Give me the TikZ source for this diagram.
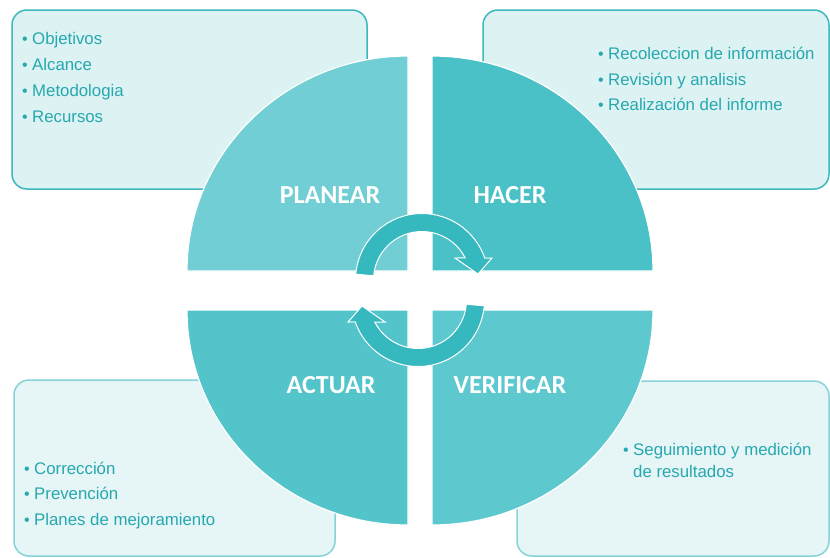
\documentclass[tikz,border=0pt]{standalone}
\usepackage{fontspec}
\setmainfont{Liberation Sans}
\newfontfamily\lblfont{Carlito}
\definecolor{boxfillT}{RGB}{221,242,243}
\definecolor{boxfillB}{RGB}{230,245,246}
\definecolor{boxdrawT}{RGB}{60,184,191}
\definecolor{boxdrawB}{RGB}{134,211,216}
\definecolor{cplanear}{RGB}{112,206,212}
\definecolor{chacer}{RGB}{73,193,198}
\definecolor{cactuar}{RGB}{83,196,202}
\definecolor{cverificar}{RGB}{93,200,205}
\definecolor{carrow}{RGB}{53,185,191}
\definecolor{itemtxt}{RGB}{38,168,175}
\tikzset{
  item/.style={anchor=base west, inner sep=0pt, text=itemtxt, font=\fontsize{16.8}{20}\selectfont},
  bul/.style={anchor=base west, inner sep=0pt, text=itemtxt, font=\fontsize{16}{18}\selectfont},
  quadlbl/.style={anchor=base, inner sep=0pt, text=white, font=\lblfont\bfseries\fontsize{26}{30}\selectfont},
  boxT/.style={draw=boxdrawT, fill=boxfillT, line width=1.5pt, rounded corners=15pt},
  boxB/.style={draw=boxdrawB, fill=boxfillB, line width=1.5pt, rounded corners=15pt},
  quad/.style={draw=white, line width=1.2pt},
  cyc/.style={fill=carrow, draw=white, line width=1pt, line join=miter},
}
\begin{document}
\begin{tikzpicture}[x=1pt,y=-1pt]
\useasboundingbox (0,0) rectangle (830,557);
\fill[white] (0,0) rectangle (830,557);
% boxes
\draw[boxT] (12,10) rectangle (367,189);
\draw[boxT] (483,10) rectangle (829,189);
\draw[boxB] (14,380) rectangle (335,556);
\draw[boxB] (517,381) rectangle (829,556);
% quadrants
\path[quad, fill=cplanear] (408,271) -- (187,271) arc[start angle=180, end angle=270, x radius=221, y radius=215] -- cycle;
\path[quad, fill=chacer] (432,271) -- (432,56) arc[start angle=270, end angle=360, x radius=221, y radius=215] -- cycle;
\path[quad, fill=cverificar] (432,310) -- (653,310) arc[start angle=0, end angle=90, x radius=221, y radius=215] -- cycle;
\path[quad, fill=cactuar] (408,310) -- (408,525) arc[start angle=90, end angle=180, x radius=221, y radius=215] -- cycle;
% labels
\node[quadlbl] (planear) at (330,203) {PLANEAR};
\node[quadlbl] (hacer) at (510,203) {HACER};
\node[quadlbl] (actuar) at (331,393) {ACTUAR};
\node[quadlbl] (verificar) at (510,393) {VERIFICAR};
% cycle arrows
\path[cyc] ([shift={(422,280)}]-175:66.5) arc[start angle=-175, end angle=-19.3, radius=66.5] -- (492,258) -- (478,274) -- (455,258) -- ([shift={(422,280)}]-27:48.5) arc[start angle=-27, end angle=-175, radius=48.5] -- cycle;
\begin{scope}[rotate around={180:(420,290)}]
\path[cyc] ([shift={(422,280)}]-175:66.5) arc[start angle=-175, end angle=-19.3, radius=66.5] -- (492,258) -- (478,274) -- (455,258) -- ([shift={(422,280)}]-27:48.5) arc[start angle=-27, end angle=-175, radius=48.5] -- cycle;
\end{scope}
% top-left items
\node[bul] (b1) at (22,44.5) {•};
\node[item] (t1) at (32,44.5) {Objetivos};
\node[bul] (b2) at (22,70) {•};
\node[item] (t2) at (32,70) {Alcance};
\node[bul] (b3) at (22,96) {•};
\node[item] (t3) at (32,96) {Metodologia};
\node[bul] (b4) at (22,122) {•};
\node[item] (t4) at (32,122) {Recursos};
% top-right items
\node[bul] (b5) at (598,59) {•};
\node[item] (t5) at (608,59) {Recoleccion de información};
\node[bul] (b6) at (598,85) {•};
\node[item] (t6) at (608,85) {Revisión y analisis};
\node[bul] (b7) at (598,110.5) {•};
\node[item] (t7) at (608,110.5) {Realización del informe};
% bottom-left items
\node[bul] (b8) at (24,474) {•};
\node[item] (t8) at (34,474) {Corrección};
\node[bul] (b9) at (24,499.5) {•};
\node[item] (t9) at (34,499.5) {Prevención};
\node[bul] (b10) at (24,525) {•};
\node[item] (t10) at (34,525) {Planes de mejoramiento};
% bottom-right items
\node[bul] (b11) at (623,455) {•};
\node[item] (t11) at (633,455) {Seguimiento y medición};
\node[item] (t12) at (633,477) {de resultados};
\end{tikzpicture}
\end{document}
